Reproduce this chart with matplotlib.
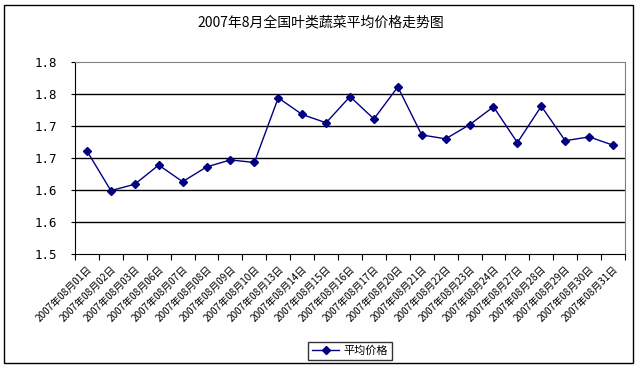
import matplotlib
matplotlib.use('Agg')
import matplotlib.pyplot as plt
from matplotlib.patches import Rectangle

plt.rcParams['font.family'] = ['Noto Sans CJK SC', 'DejaVu Sans']

TITLE = "2007年8月全国叶类蔬菜平均价格走势图"
SERIES_NAME = "平均价格"

# trading days of August 2007
DAYS = [1, 2, 3, 6, 7, 8, 9, 10, 13, 14, 15, 16, 17, 20, 21, 22, 23, 24, 27, 28, 29, 30, 31]
PRICES = [1.661, 1.599, 1.609, 1.639, 1.613, 1.636, 1.647, 1.643, 1.744, 1.718, 1.705, 1.746,
          1.711, 1.761, 1.686, 1.680, 1.702, 1.730, 1.674, 1.731, 1.677, 1.683, 1.670]

Y_TICKS = [1.50, 1.55, 1.60, 1.65, 1.70, 1.75, 1.80]
Y_TICK_LABELS = ["1.5", "1.6", "1.6", "1.7", "1.7", "1.8", "1.8"]

labels = [f"2007年08月{d:02d}日" for d in DAYS]

fig = plt.figure(figsize=(6.41, 3.70), dpi=100)
fig.patches.append(Rectangle((4 / 641, 7 / 370), 629 / 641, 358 / 370, transform=fig.transFigure,
                             fill=False, edgecolor="black", linewidth=1.0))

# plot area in pixels: x 75..625, y 62..254
ax = fig.add_axes([75 / 641, 1 - 254 / 370, 550 / 641, 192 / 370])

x = list(range(len(DAYS)))
ax.plot(x, PRICES, color="#000080", linewidth=1.0, marker="D", markersize=4,
        markerfacecolor="#000080", markeredgecolor="#000080", zorder=3, label=SERIES_NAME)

ax.set_xlim(-0.5, len(DAYS) - 0.5)
ax.set_ylim(Y_TICKS[0], Y_TICKS[-1])

for t in Y_TICKS[1:-1]:
    ax.axhline(t, color="black", linewidth=1.0, zorder=1)

ax.set_yticks(Y_TICKS)
ax.set_yticklabels(Y_TICK_LABELS, fontsize=9, family="DejaVu Sans Mono")
ax.tick_params(axis="y", length=3, direction="out", pad=10)

# category boundary ticks, labels in the middle
ax.set_xticks([i - 0.5 for i in range(len(DAYS) + 1)])
ax.set_xticklabels([])
ax.set_xticks(x, minor=True)
ax.set_xticklabels(labels, minor=True, rotation=45, ha="right", rotation_mode="anchor",
                   fontsize=7.2)
ax.tick_params(axis="x", which="major", length=4, direction="out")
ax.tick_params(axis="x", which="minor", length=0, pad=7)

ax.spines["top"].set_color("#808080")
ax.spines["right"].set_color("#808080")
ax.spines["left"].set_color("black")
ax.spines["bottom"].set_color("black")

fig.text(0.5, 1 - 22 / 370, TITLE, ha="center", va="center", fontsize=10)

leg = fig.legend(loc="center", bbox_to_anchor=(350 / 641, 1 - 351 / 370), fontsize=8,
                 frameon=True, fancybox=False, edgecolor="black", borderpad=0.3,
                 handlelength=2.5, handletextpad=0.4)
leg.get_frame().set_linewidth(1.0)

fig.savefig("out.png", dpi=100)
